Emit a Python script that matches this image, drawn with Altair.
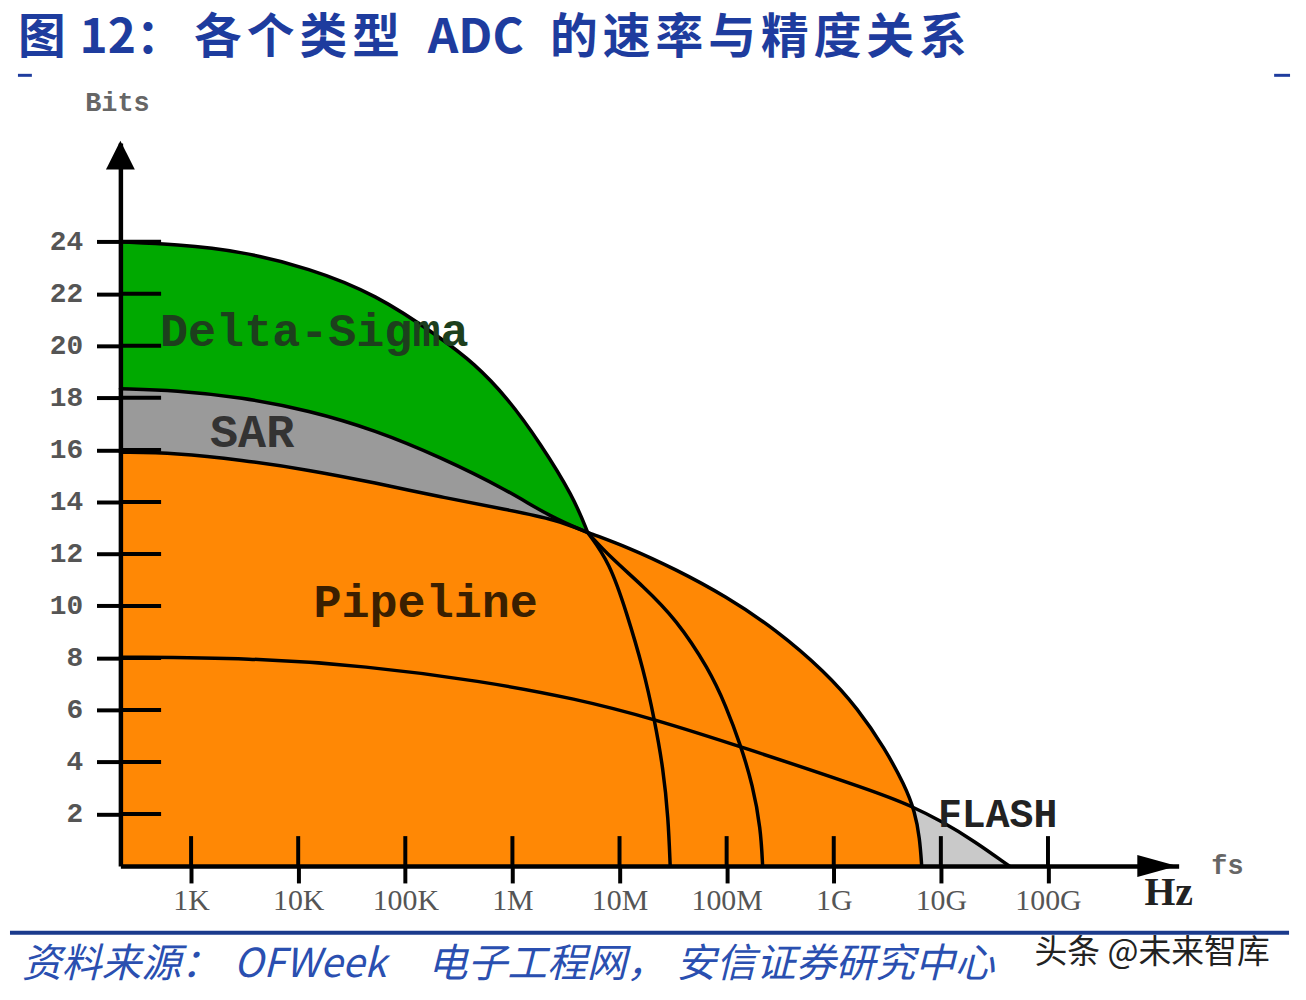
import json
import altair as alt
import pandas as pd

# ---------------- data (x = log10 of sampling rate in Hz, y = bits) ----------------
x_tick_values = [3, 4, 5, 6, 7, 8, 9, 10, 11]
x_tick_labels = ["1K", "10K", "100K", "1M", "10M", "100M", "1G", "10G", "100G"]
y_tick_values = [2, 4, 6, 8, 10, 12, 14, 16, 18, 20, 22, 24]

delta_sigma_x = [2.34, 2.86, 3.47, 4.10, 4.72, 5.33, 5.645, 5.95, 6.26, 6.57, 6.703]
delta_sigma_y = [24.0, 23.9, 23.64, 22.99, 22.0, 20.31, 19.32, 18.02, 16.26, 14.19, 12.82]

sar_x = [2.34, 2.86, 3.47, 4.10, 4.72, 5.33, 5.95, 6.35, 6.703]
sar_y = [18.35, 18.29, 18.02, 17.52, 16.76, 15.72, 14.46, 13.43, 12.82]

pipeline_x = [2.34, 2.86, 3.47, 4.10, 4.72, 5.33, 5.95, 6.415, 6.703, 7.065, 7.529,
              7.993, 8.457, 8.921, 9.227, 9.478, 9.663, 9.757, 9.803, 9.821]
pipeline_y = [15.91, 15.88, 15.61, 15.23, 14.73, 14.19, 13.70, 13.31, 12.82, 12.28, 11.40,
              10.37, 9.10, 7.46, 6.04, 4.51, 3.10, 2.10, 1.07, 0.0]

curve_a_x = [6.703, 6.907, 7.065, 7.223, 7.325, 7.408, 7.455, 7.473]
curve_a_y = [12.82, 11.67, 9.76, 7.57, 5.66, 3.75, 1.84, 0.0]

curve_b_x = [6.703, 6.907, 7.223, 7.529, 7.835, 7.993, 8.132, 8.244, 8.318, 8.336]
curve_b_y = [12.82, 11.90, 10.75, 9.49, 7.57, 6.16, 4.63, 3.10, 1.45, 0.0]

flash_x = [2.34, 3.566, 4.633, 5.70, 6.60, 7.316, 8.132, 9.385, 9.729, 10.007, 10.313, 10.638]
flash_y = [8.03, 8.0, 7.69, 7.12, 6.43, 5.66, 4.59, 2.87, 2.30, 1.72, 0.96, 0.0]

region_names = ["Delta-Sigma", "SAR", "Pipeline", "FLASH"]
region_label_x = [4.15, 3.57, 5.19, 10.53]
region_label_y = [20.54, 16.64, 10.1, 1.95]
region_label_size = [47, 47, 47, 40]
region_label_color = ["#1d3f1d", "#333333", "#3a1f00", "#222222"]

X_MIN, X_MAX = 2.34, 12.22
Y_MAX = 27.8

# title pieces: (text, left x on the page, per-character stride or 0 for one run)
title_parts = [("图", 18, 0), ("12：", 80, 0), ("各个类型", 195, 53), ("ADC", 430, 0),
               ("的速率与精度关系", 553, 53)]
source_parts = [("资料来源：", 22, 0), ("OFWeek", 235, 0), ("电子工程网，", 430, 0),
                ("安信证券研究中心", 680, 0)]
watermark_text = "头条 @未来智库"

# ---------------- encodings ----------------
x_axis = alt.Axis(
    values=x_tick_values,
    labelExpr=json.dumps(x_tick_labels) + "[round(datum.value) - 3]",
    title=None, grid=False, tickSize=17, tickWidth=4, tickColor="black",
    domainColor="black", domainWidth=4.5, labelFont="Liberation Serif",
    labelFontSize=30, labelColor="#555555", labelPadding=3, labelOverlap=False,
    labelFlush=False, labelBound=False, zindex=1,
)
y_axis = alt.Axis(
    values=y_tick_values, title=None, grid=False, tickSize=24, tickWidth=4,
    tickColor="black", domainColor="black", domainWidth=4.5,
    labelFont="Liberation Mono", labelFontWeight="bold", labelFontSize=28,
    labelColor="#555555", labelPadding=14, labelOverlap=False, labelBound=False,
    zindex=1,
)
xs = alt.Scale(domain=[X_MIN, X_MAX], nice=False, zero=False)
ys = alt.Scale(domain=[0, Y_MAX], nice=False, zero=True)


def X(field="x"):
    return alt.X(f"{field}:Q", scale=xs, axis=x_axis)


def Y(field="y"):
    return alt.Y(f"{field}:Q", scale=ys, axis=y_axis)


def df(xv, yv):
    return pd.DataFrame({"x": xv, "y": yv})


ds_df = df(delta_sigma_x, delta_sigma_y)
sar_df = df(sar_x, sar_y)
pipe_df = df(pipeline_x, pipeline_y)
a_df = df(curve_a_x, curve_a_y)
b_df = df(curve_b_x, curve_b_y)
flash_df = df(flash_x, flash_y)

CURVE = "basis"


def area(d, color):
    return alt.Chart(d).mark_area(interpolate=CURVE, color=color, opacity=1).encode(
        x=X(), y=Y())


def line(d):
    return alt.Chart(d).mark_line(interpolate=CURVE, color="black", strokeWidth=3.5,
                                  strokeCap="round").encode(x=X(), y=Y())


layers = [
    area(flash_df, "#c9c9c9"),
    area(ds_df, "#00a900"),
    area(sar_df, "#9a9a9a"),
    area(pipe_df, "#ff8805"),
    line(ds_df), line(sar_df), line(pipe_df), line(a_df), line(b_df), line(flash_df),
]

# inner parts of the axis ticks (they cross the axis line)
ytick_df = pd.DataFrame({"y": y_tick_values, "x": [X_MIN] * len(y_tick_values),
                         "x2": [X_MIN + 0.38] * len(y_tick_values)})
layers.append(alt.Chart(ytick_df).mark_rule(color="black", strokeWidth=4).encode(
    x=X(), x2="x2:Q", y=Y()))
xtick_df = pd.DataFrame({"x": x_tick_values, "y": [0] * len(x_tick_values),
                         "y2": [1.15] * len(x_tick_values)})
layers.append(alt.Chart(xtick_df).mark_rule(color="black", strokeWidth=4).encode(
    x=X(), y=Y(), y2="y2:Q"))

# arrow heads
up_df = pd.DataFrame({"x": [X_MIN], "y": [27.33]})
layers.append(alt.Chart(up_df).mark_point(shape="M-1,1L0,-1L1,1Z", size=841, filled=True,
                                          color="black", opacity=1).encode(x=X(), y=Y()))
right_df = pd.DataFrame({"x": [12.02], "y": [0.0]})
layers.append(alt.Chart(right_df).mark_point(shape="M-1,-0.55L1,0L-1,0.55Z", size=1600, filled=True,
                                             color="black", opacity=1).encode(x=X(), y=Y()))

# region labels
lab_df = pd.DataFrame({"x": region_label_x, "y": region_label_y, "text": region_names,
                       "size": region_label_size, "color": region_label_color})
layers.append(alt.Chart(lab_df).mark_text(font="Liberation Mono", fontWeight="bold",
                                          baseline="middle", align="center").encode(
    x=X(), y=Y(), text="text:N",
    size=alt.Size("size:Q", scale=None, legend=None),
    color=alt.Color("color:N", scale=None, legend=None)))

# ---------------- annotation texts (page furniture) ----------------
OX, OY = 121, 141  # page position of the plot origin


def ann(text, px, py, **kw):
    return alt.Chart(pd.DataFrame({"t": [text]})).mark_text(**kw).encode(
        text="t:N", x=alt.value(px - OX), y=alt.value(py - OY))


def hrule(x1, x2, y, color, w):
    return alt.Chart(pd.DataFrame({"a": [0]})).mark_rule(color=color, strokeWidth=w).encode(
        x=alt.value(x1 - OX), x2=alt.value(x2 - OX), y=alt.value(y - OY))


title_style = dict(font="Noto Sans CJK SC", fontSize=48, fontWeight="bold",
                   color="#1e3c9e", align="left", baseline="middle")
for t, px, stride in title_parts:
    if stride:
        for k, ch in enumerate(t):
            layers.append(ann(ch, px + k * stride, 37, **title_style))
    else:
        layers.append(ann(t, px, 37, **title_style))

for t, px, _ in source_parts:
    layers.append(ann(t, px, 968, font="Noto Sans CJK SC", fontSize=40, fontStyle="italic",
                      color="#2a4fb0", align="left", baseline="middle"))

layers += [
    hrule(18, 32, 73, "#1e3c9e", 3),
    hrule(1281, 1297, 73, "#1e3c9e", 3),
    ann("Bits", 118, 101, font="Liberation Mono", fontSize=27, fontWeight="bold",
        color="#666666", align="center", baseline="middle"),
    ann("fs", 1234, 868, font="Liberation Mono", fontSize=27, fontWeight="bold",
        color="#666666", align="center", baseline="middle"),
    ann("Hz", 1175, 895, font="Liberation Serif", fontSize=40, fontWeight="bold",
        color="#222222", align="center", baseline="middle"),
    hrule(10, 1296, 935, "#1a3a8c", 4),
    ann(watermark_text, 1040, 955, font="Noto Sans CJK SC", fontSize=33,
        color="#222222", align="left", baseline="middle"),
]

chart = alt.layer(*layers).properties(
    width=1064, height=727,
    autosize=alt.AutoSizeParams(type="none"),
    padding={"left": 113, "top": 133, "right": 120, "bottom": 130},
    background="white",
).configure_view(stroke=None)

chart.save("out.html", embed_options={"renderer": "svg", "actions": False})
